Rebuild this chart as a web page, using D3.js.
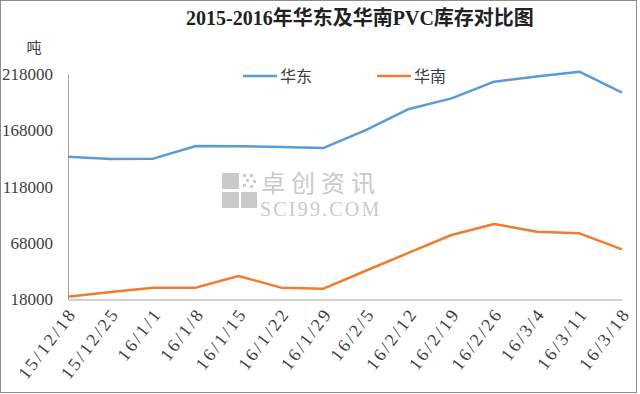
<!DOCTYPE html>
<html>
<head>
<meta charset="utf-8">
<script src="https://cdn.jsdelivr.net/npm/d3@7"></script>
<style>
  body { margin: 0; background: #fff; }
  svg { display: block; }
</style>
</head>
<body>
<div id="chart"></div>
<script>
// data
var dates = ["15/12/18", "15/12/25", "16/1/1", "16/1/8", "16/1/15", "16/1/22", "16/1/29",
             "16/2/5", "16/2/12", "16/2/19", "16/2/26", "16/3/4", "16/3/11", "16/3/18"];
var eastChina = [144600, 142600, 142900, 154100, 153900, 153300, 152400,
                 168500, 187000, 196400, 211200, 215800, 220000, 201400];
var southChina = [20500, 24600, 28500, 28500, 38800, 28500, 27600,
                  43700, 59500, 75200, 85000, 78100, 76700, 62500];
var yTicks = [18000, 68000, 118000, 168000, 218000];
var seriesNames = ["华东", "华南"];
var seriesColors = ["#5b9bd5", "#ed7d31"];

var width = 640, height = 394;
// plot box (note: "top" is taken by window.top, so prefix these)
var plotLeft = 68, plotRight = 622, plotTop = 74, plotBottom = 299.5;
var serif = "'Liberation Serif', 'Noto Sans CJK SC', serif";
var cjk = "'Noto Sans CJK SC', sans-serif";

var svg = d3.select("#chart").append("svg")
  .attr("width", width)
  .attr("height", height);

// outer frame
svg.append("rect")
  .attr("x", 0.5).attr("y", 0.5)
  .attr("width", width - 4).attr("height", height - 2)
  .attr("fill", "#fff")
  .attr("stroke", "#8c8c8c");

var x = d3.scalePoint().domain(dates).range([plotLeft, plotRight]);
var y = d3.scaleLinear().domain([18000, 218000]).range([plotBottom, plotTop]);

// watermark in the middle
var wm = svg.append("g").attr("fill", "#cacaca");
wm.append("rect").attr("x", 222).attr("y", 173).attr("width", 17).attr("height", 16);
wm.append("rect").attr("x", 222).attr("y", 192).attr("width", 17).attr("height", 16);
wm.append("rect").attr("x", 241).attr("y", 192).attr("width", 16).attr("height", 16);
[[243, 174], [250, 174], [246, 179], [253, 180], [243, 184], [250, 185]].forEach(function(p) {
  wm.append("rect").attr("x", p[0]).attr("y", p[1]).attr("width", 3).attr("height", 3);
});
wm.append("text").attr("x", 261).attr("y", 192)
  .style("font-family", cjk)
  .style("font-size", "24px").style("letter-spacing", "6px")
  .text("卓创资讯");
wm.append("text").attr("x", 260).attr("y", 216)
  .style("font-family", serif).style("font-size", "20px").style("letter-spacing", "2.2px")
  .text("SCI99.COM");

// axes
var yAxis = d3.axisLeft(y).tickValues(yTicks).tickSize(0).tickPadding(15).tickFormat(d3.format("d"));
var gy = svg.append("g").attr("transform", "translate(" + plotLeft + ",0)").call(yAxis);
gy.select(".domain").attr("stroke", "#a6a6a6");
gy.selectAll("text")
  .style("font-family", serif).style("font-size", "17px").attr("fill", "#404040");

var xAxis = d3.axisBottom(x).tickSize(0).tickPadding(0);
var gx = svg.append("g").attr("transform", "translate(0," + plotBottom + ")").call(xAxis);
gx.select(".domain").attr("stroke", "#a6a6a6");
gx.selectAll("text")
  .style("font-family", serif).style("font-size", "18px").style("letter-spacing", "2.5px")
  .attr("fill", "#404040")
  .attr("text-anchor", "end")
  .attr("dy", "0")
  .attr("transform", "translate(9,14) rotate(-53)");

// lines
var line = d3.line()
  .x(function(d, i) { return x(dates[i]); })
  .y(function(d) { return y(d); });

[eastChina, southChina].forEach(function(values, i) {
  svg.append("path")
    .datum(values)
    .attr("fill", "none")
    .attr("stroke", seriesColors[i])
    .attr("stroke-width", 2.5)
    .attr("stroke-linejoin", "round")
    .attr("d", line);
});

// legend
var legendX = [243, 377];
seriesNames.forEach(function(name, i) {
  var g = svg.append("g").attr("transform", "translate(" + legendX[i] + ",76)");
  g.append("line").attr("x1", 0).attr("x2", 34)
    .attr("stroke", seriesColors[i]).attr("stroke-width", 2.5);
  g.append("text").attr("x", 37).attr("y", 6)
    .style("font-family", cjk)
    .style("font-size", "16px").attr("fill", "#404040")
    .text(name);
});

// title and unit
svg.append("text")
  .attr("x", 360).attr("y", 25)
  .attr("text-anchor", "middle")
  .style("font-family", serif).style("font-size", "20px").style("font-weight", "bold")
  .attr("fill", "#222")
  .text("2015-2016年华东及华南PVC库存对比图");

svg.append("text")
  .attr("x", 34).attr("y", 53)
  .attr("text-anchor", "middle")
  .style("font-family", cjk).style("font-size", "15px")
  .attr("fill", "#404040")
  .text("吨");
</script>
</body>
</html>
